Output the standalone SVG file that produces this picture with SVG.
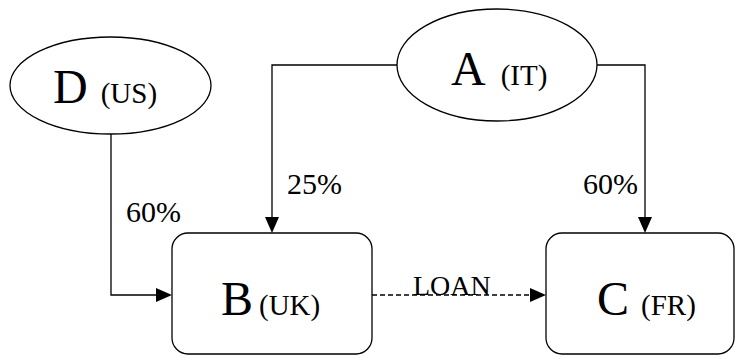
<svg xmlns="http://www.w3.org/2000/svg" width="735" height="356" viewBox="0 0 735 356">
<g id="connectors">
<path d="M111,134 V295 H157" fill="none" stroke="#000" stroke-width="1.3"/>
<polygon points="156,288 172,295 156,302" fill="#000"/>
<path d="M397,65 H272 V218" fill="none" stroke="#000" stroke-width="1.3"/>
<polygon points="265,217 272,233 279,217" fill="#000"/>
<path d="M597,65 H645 V218" fill="none" stroke="#000" stroke-width="1.3"/>
<polygon points="638,217 645,233 652,217" fill="#000"/>
<path d="M372,295 H531" fill="none" stroke="#000" stroke-width="1.3" stroke-dasharray="5 3"/>
<polygon points="530,288 546,295 530,302" fill="#000"/>
</g>
<text x="126" y="222" font-family="Liberation Serif" font-size="30">60%</text>
<text x="287" y="194" font-family="Liberation Serif" font-size="30">25%</text>
<text x="583" y="194" font-family="Liberation Serif" font-size="30">60%</text>
<text x="413" y="295" font-family="Liberation Serif" font-size="28">LOAN</text>
<g id="D">
<ellipse cx="110.5" cy="85.5" rx="100.5" ry="48.5" fill="#fff" stroke="#000" stroke-width="1.3"/>
<text x="53" y="103" font-family="Liberation Serif" font-size="48">D<tspan font-size="29" dx="13">(US)</tspan></text>
</g>
<g id="A">
<ellipse cx="497" cy="65" rx="100" ry="56" fill="#fff" stroke="#000" stroke-width="1.3"/>
<text x="451" y="85" font-family="Liberation Serif" font-size="48">A<tspan font-size="29" dx="15">(IT)</tspan></text>
</g>
<g id="B">
<rect x="172" y="233" width="200" height="121" rx="16" ry="16" fill="#fff" stroke="#000" stroke-width="1.3"/>
<text x="221" y="315" font-family="Liberation Serif" font-size="48">B<tspan font-size="29" dx="6">(UK)</tspan></text>
</g>
<g id="C">
<rect x="546" y="233" width="188" height="121" rx="16" ry="16" fill="#fff" stroke="#000" stroke-width="1.3"/>
<text x="597" y="315" font-family="Liberation Serif" font-size="48">C<tspan font-size="29" dx="12">(FR)</tspan></text>
</g>
</svg>
